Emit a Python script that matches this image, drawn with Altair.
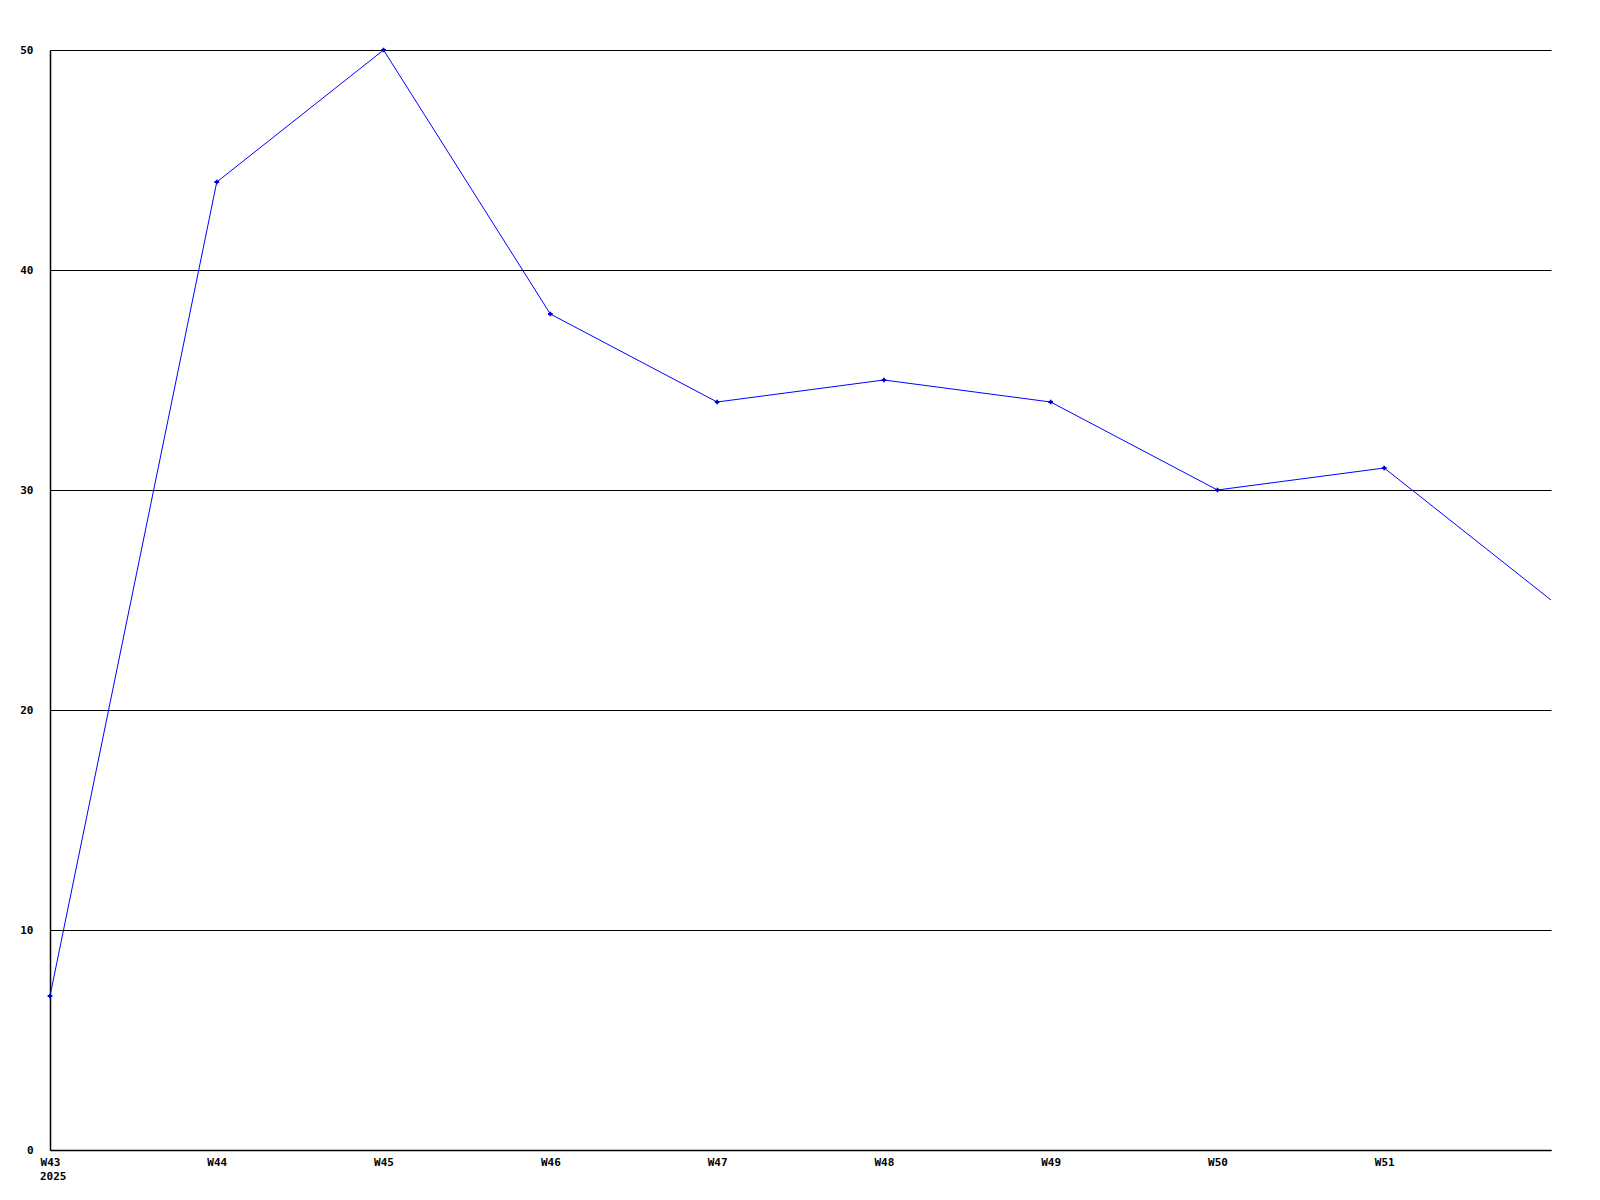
import altair as alt
import pandas as pd

weeks = ["W43", "W44", "W45", "W46", "W47", "W48", "W49", "W50", "W51", "W52"]
values = [7, 44, 50, 38, 34, 35, 34, 30, 31, 25]
y_ticks = [0, 10, 20, 30, 40, 50]
year_label = "2025"

df = pd.DataFrame({"week": weeks, "value": values})

W = 1501
H = 1100
FONT = "DejaVu Sans Mono"

x_enc = alt.X(
    "week:O",
    sort=weeks,
    scale=alt.Scale(type="point", padding=0, domain=weeks),
    axis=alt.Axis(
        title=None,
        labelAngle=0,
        ticks=False,
        domain=True,
        domainColor="#000000",
        domainWidth=1.5,
        labelExpr="datum.value == 'W52' ? '' : datum.value",
        labelFont=FONT,
        labelFontSize=11,
        labelFontWeight="bold",
        labelColor="#000000",
        labelPadding=6,
        grid=False,
    ),
)
y_enc = alt.Y(
    "value:Q",
    scale=alt.Scale(domain=[0, 50], nice=False, zero=True),
    axis=alt.Axis(
        title=None,
        values=y_ticks,
        ticks=False,
        domain=True,
        domainColor="#000000",
        domainWidth=1.5,
        grid=True,
        gridColor="#000000",
        gridWidth=1,
        gridOpacity=1,
        labelFont=FONT,
        labelFontSize=11,
        labelFontWeight="bold",
        labelColor="#000000",
        labelPadding=17,
    ),
)

base = alt.Chart(df)
line = base.mark_line(color="#0000ff", strokeWidth=1).encode(x=x_enc, y=y_enc)
points = (
    base.transform_filter(alt.datum.week != weeks[-1])
    .mark_point(shape="cross", filled=True, size=22, color="#0000cc", opacity=1)
    .encode(x=alt.X("week:O", sort=weeks), y="value:Q")
)
year = alt.Chart(pd.DataFrame({"t": [year_label], "week": [weeks[0]]})).mark_text(
    align="left", baseline="middle", font=FONT, fontSize=11, fontWeight="bold", color="#000000", dx=-10
).encode(x=alt.X("week:O", sort=weeks), y=alt.value(H + 27), text="t:N")

chart = (
    alt.layer(line, points, year)
    .properties(
        width=W,
        height=H,
        autosize=alt.AutoSizeParams(type="none"),
        padding={"left": 42, "top": 42, "right": 40, "bottom": 40},
        view=alt.ViewBackground(strokeOpacity=0, strokeWidth=0),
    )
    .configure_view(strokeOpacity=0, strokeWidth=0)
    .configure(background="#ffffff")
)

chart.save("out.html", embed_options={"renderer": "svg", "actions": False})
